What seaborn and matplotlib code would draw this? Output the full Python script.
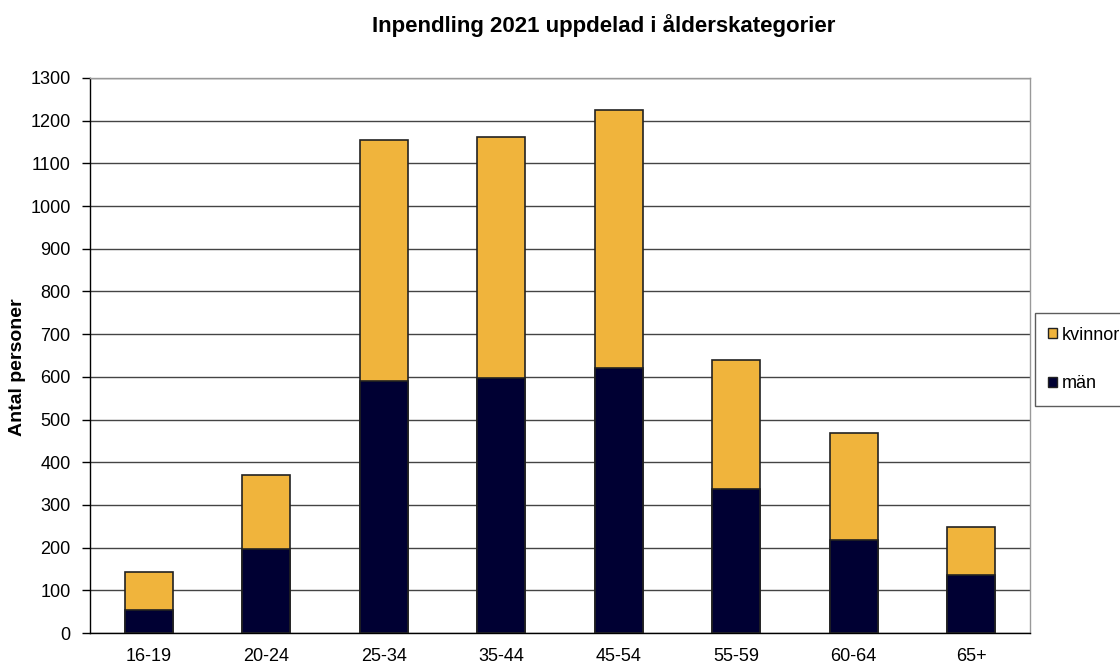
import numpy as np
import pandas as pd
import seaborn as sns
import matplotlib.pyplot as plt
from matplotlib.patches import Patch

age_groups = ["16-19", "20-24", "25-34", "35-44", "45-54", "55-59", "60-64", "65+"]
man = [54, 196, 590, 597, 620, 338, 219, 137]
total = [142, 370, 1155, 1162, 1225, 639, 468, 249]

df = pd.DataFrame({"Ålder": age_groups, "män": man, "totalt": total})

sns.set_theme(style="white")
plt.rcParams['font.family'] = ['Liberation Sans', 'DejaVu Sans']
plt.rcParams['text.color'] = 'black'
plt.rcParams['axes.labelcolor'] = 'black'
plt.rcParams['xtick.color'] = 'black'
plt.rcParams['ytick.color'] = 'black'

fig = plt.figure(figsize=(11.2, 6.66), dpi=100)
ax = fig.add_axes([0.0804, 0.0495, 0.8392, 0.8334])

orange = "#F0B43C"
navy = "#000033"

# totals first (kvinnor part shows above), then män on top from zero
sns.barplot(data=df, x="Ålder", y="totalt", color=orange, width=0.41,
            edgecolor="#222222", linewidth=1.2, ax=ax, zorder=3, saturation=1)
sns.barplot(data=df, x="Ålder", y="män", color=navy, width=0.41,
            edgecolor="#222222", linewidth=1.2, ax=ax, zorder=4, saturation=1)

ax.set_ylim(0, 1300)
ax.set_xlim(-0.5, len(age_groups) - 0.5)
ax.set_yticks(np.arange(0, 1301, 100))
ax.yaxis.grid(True, color="#444444", linewidth=1, zorder=0)
ax.set_axisbelow(True)

ax.set_xticks(np.arange(len(age_groups)))
ax.set_xticklabels(age_groups)
ax.set_xticks(np.arange(-0.5, len(age_groups)), minor=True)
ax.tick_params(axis="x", which="major", length=0, labelsize=13, pad=11)
ax.tick_params(axis="x", which="minor", length=6, width=1, color="black", direction="out")
ax.tick_params(axis="y", length=6, width=1, color="black", direction="out",
               labelsize=13, left=True, pad=8)

for side in ["left", "bottom"]:
    ax.spines[side].set_color("black")
    ax.spines[side].set_linewidth(1)
for side in ["right", "top"]:
    ax.spines[side].set_color("#999999")
    ax.spines[side].set_linewidth(1)

ax.set_xlabel("")
ax.set_ylabel("")
fig.text(0.016, 0.449, "Antal personer", fontsize=14, fontweight="bold",
         rotation=90, ha="center", va="center")
fig.text(0.539, 0.962, "Inpendling 2021 uppdelad i ålderskategorier",
         fontsize=16, fontweight="bold", ha="center", va="center")

handles = [Patch(facecolor=orange, edgecolor="#222222", label="kvinnor"),
           Patch(facecolor=navy, edgecolor="#222222", label="män")]
leg = fig.legend(handles=handles, loc="upper left", bbox_to_anchor=(0.924, 0.530),
                 fontsize=13, frameon=True, fancybox=False, labelspacing=1.75,
                 handlelength=0.5, handleheight=0.5, handletextpad=0.25,
                 borderpad=0.75, borderaxespad=0)
leg.get_frame().set_edgecolor("#333333")
leg.get_frame().set_linewidth(1)

fig.savefig("out.png", dpi=100)
